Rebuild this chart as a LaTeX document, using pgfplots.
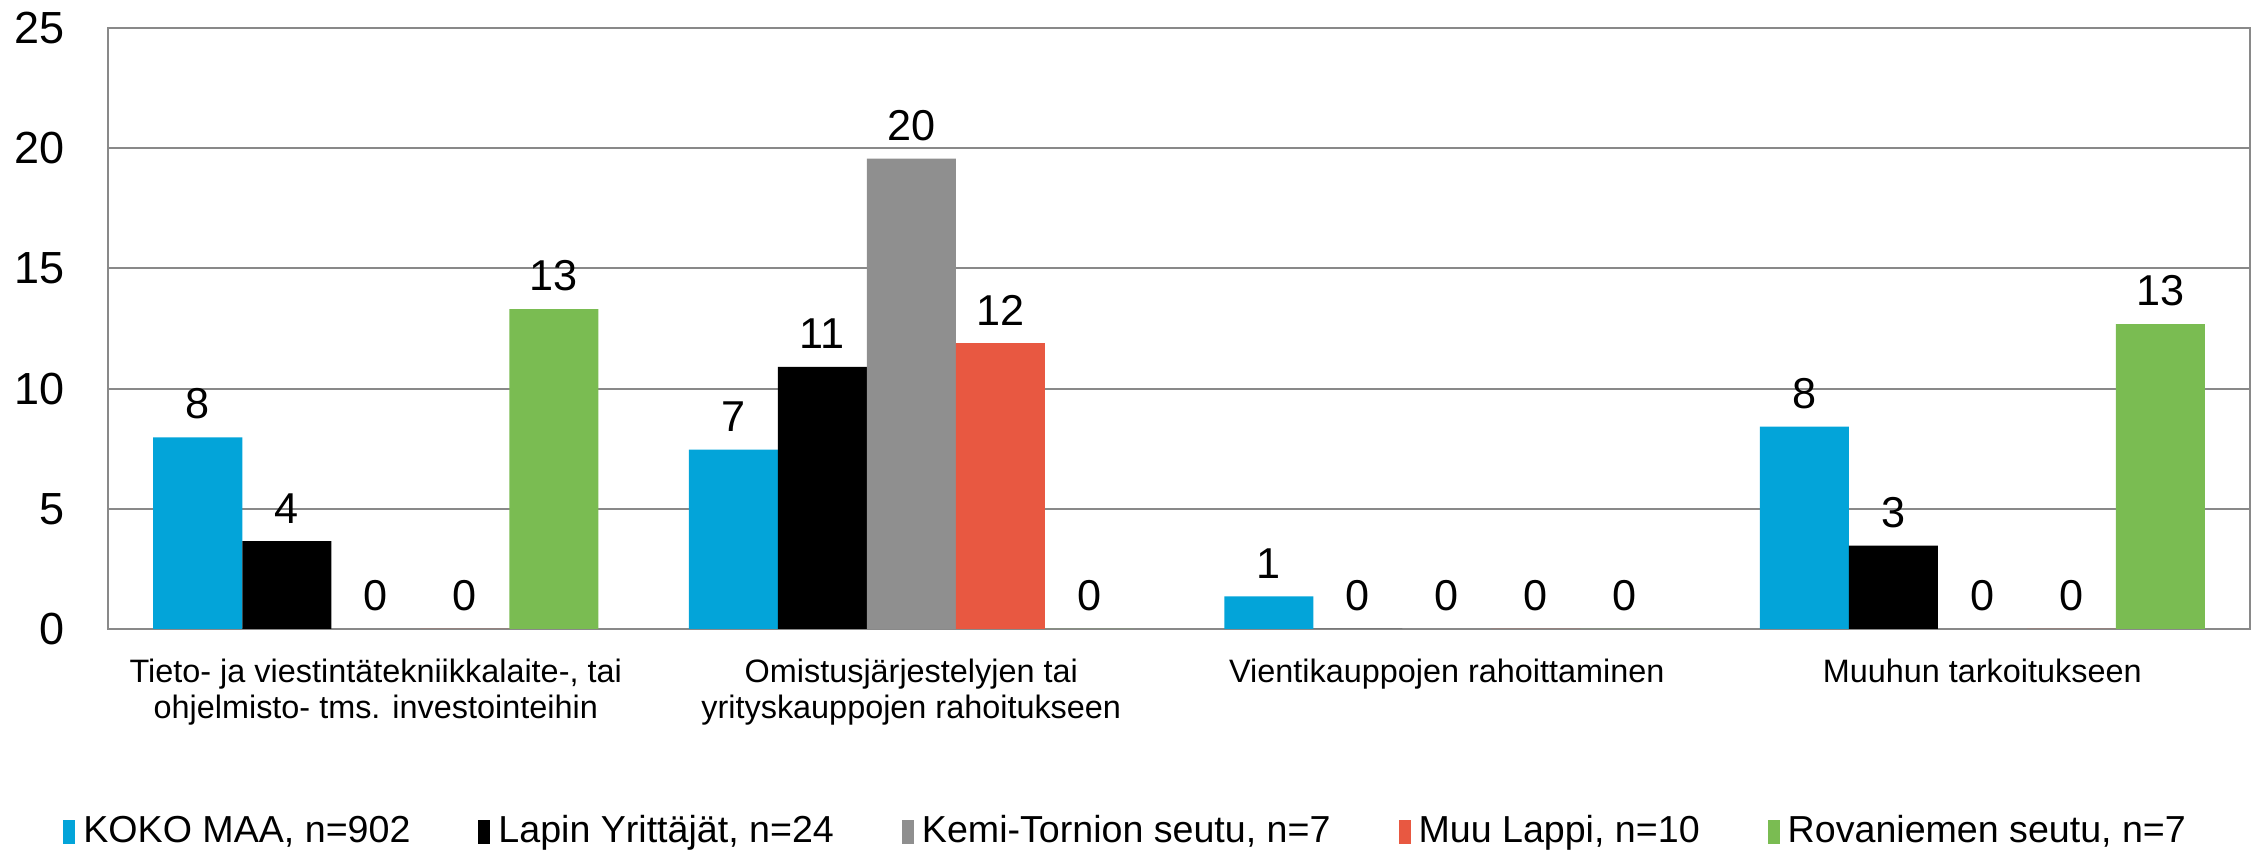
\documentclass[border=0pt]{standalone}
\usepackage{pgfplots}
\pgfplotsset{compat=1.18}
\usepackage{fontspec}
\setmainfont{Liberation Sans}

\definecolor{kokomaa}{RGB}{3,164,217}
\definecolor{kemi}{RGB}{143,143,143}
\definecolor{muulappi}{RGB}{232,88,65}
\definecolor{rovaniemi}{RGB}{122,188,82}
\definecolor{gridgray}{RGB}{137,137,137}

\begin{document}
\begin{tikzpicture}
\begin{axis}[
    at={(0,0)}, anchor=south west,
    scale only axis,
    width=535.5pt, height=150.25pt,
    ybar=0pt, bar width=22.25pt,
    xmin=-0.5, xmax=3.5,
    ymin=0, ymax=25,
    ytick={0,5,...,25},
    xtick={0,1,2,3},
    xticklabels={
        {Tieto- ja viestintätekniikkalaite-, tai\\ohjelmisto- tms. investointeihin},
        {Omistusjärjestelyjen tai\\yrityskauppojen rahoitukseen},
        {Vientikauppojen rahoittaminen},
        {Muuhun tarkoitukseen}},
    xticklabel style={align=center, font=\fontsize{8.1}{9}\selectfont, anchor=north, yshift=-4pt},
    yticklabel style={font=\fontsize{11.25}{11.25}\selectfont, inner sep=0pt, xshift=-10.75pt},
    /pgf/number format/assume math mode=true,
    major tick length=0pt,
    ymajorgrids, grid style={gridgray, line width=0.5pt},
    axis line style={gridgray, line width=0.5pt},
    nodes near coords,
    every node near coord/.append style={font=\fontsize{10.8}{12}\selectfont, text=black, inner sep=0pt, yshift=4.3pt,
        /pgf/number format/fixed, /pgf/number format/precision=0},
    legend columns=5,
    legend style={draw=none, at={(0.4765,-0.3378)}, anchor=center, inner sep=0pt,
        font=\fontsize{9.4}{10}\selectfont, /tikz/every even column/.append style={column sep=15pt}},
    legend image code/.code={\fill[#1] (0pt,-3pt) rectangle (3pt,3pt);},
]
\addplot[fill=kokomaa, draw=none] coordinates {(0,7.97) (1,7.46) (2,1.36) (3,8.42)};
\addlegendentry{KOKO MAA, n=902}
\addplot[fill=black, draw=none] coordinates {(0,3.66) (1,10.9) (2,0) (3,3.47)};
\addlegendentry{Lapin Yrittäjät, n=24}
\addplot[fill=kemi, draw=none] coordinates {(0,0) (1,19.57) (2,0) (3,0)};
\addlegendentry{Kemi-Tornion seutu, n=7}
\addplot[fill=muulappi, draw=none] coordinates {(0,0) (1,11.89) (2,0) (3,0)};
\addlegendentry{Muu Lappi, n=10}
\addplot[fill=rovaniemi, draw=none] coordinates {(0,13.31) (1,0) (2,0) (3,12.68)};
\addlegendentry{Rovaniemen seutu, n=7}
\end{axis}
\pgfresetboundingbox
\path (-27pt,-56pt) rectangle (537.25pt,157.25pt);
\end{tikzpicture}
\end{document}
